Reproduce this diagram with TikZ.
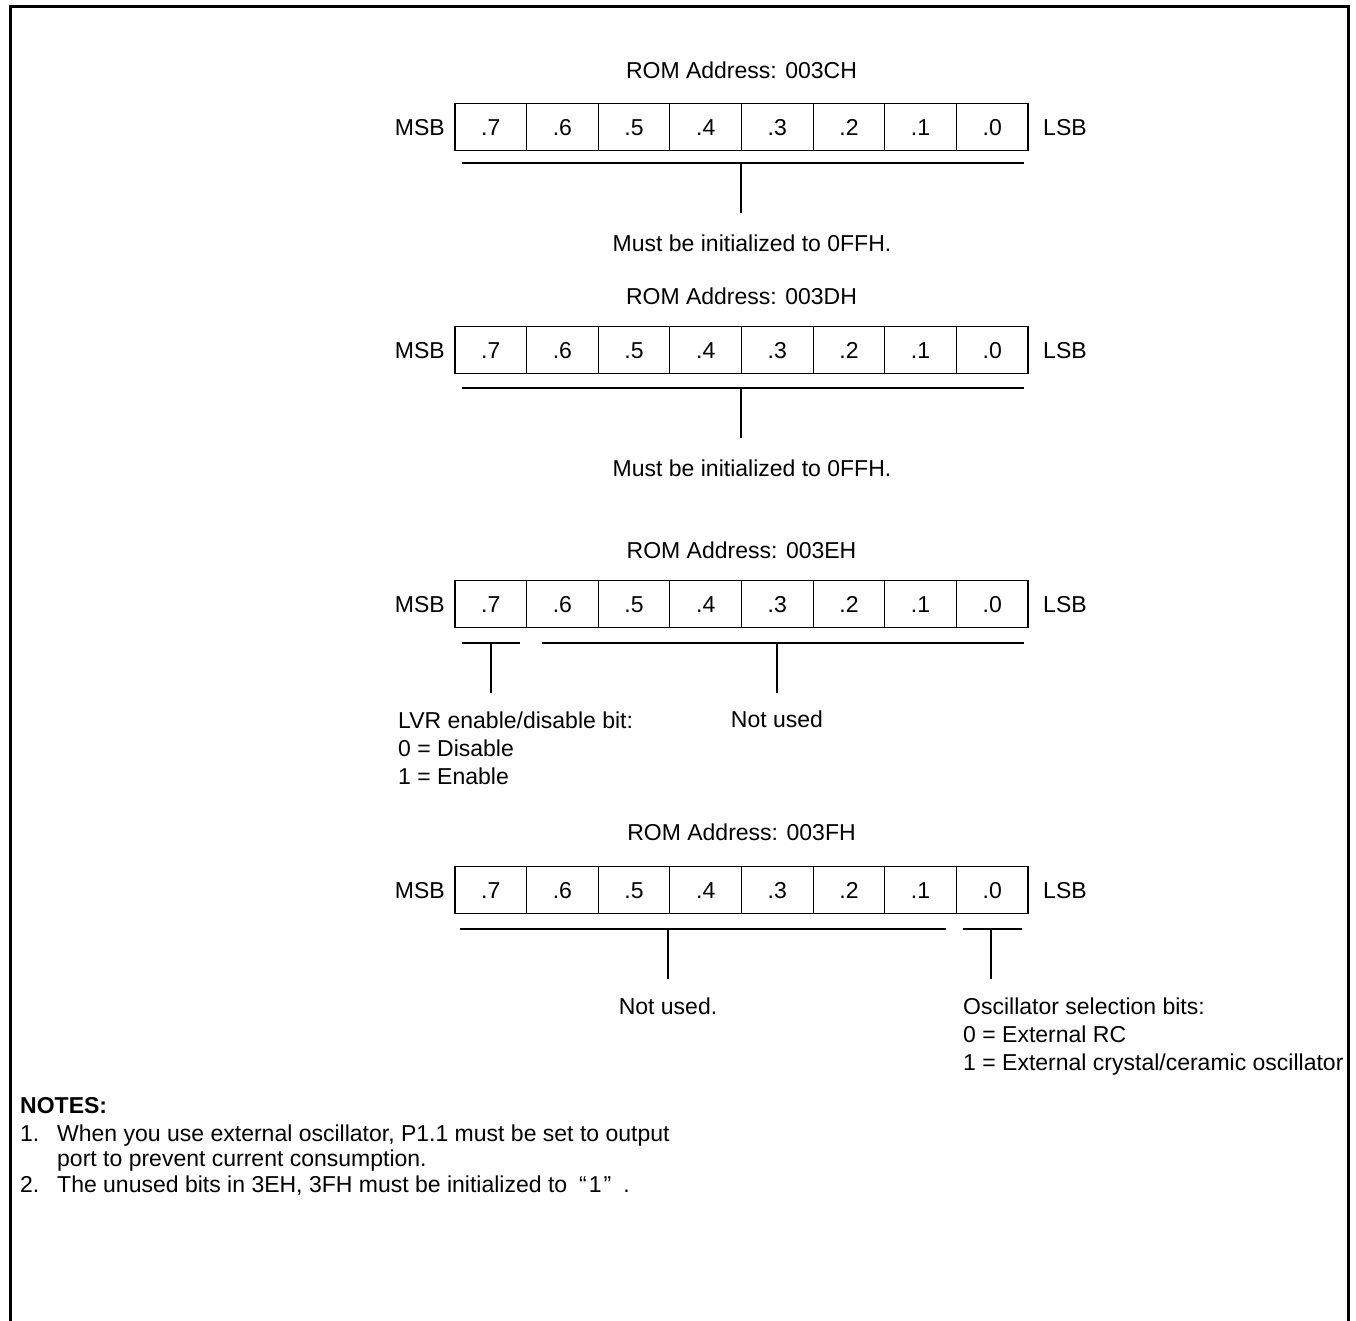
\documentclass[tikz,border=0pt]{standalone}
\usepackage{fontspec}
\setmainfont{Liberation Sans}
\begin{document}
\begin{tikzpicture}[x=1pt,y=-1pt,
  txt/.style={inner sep=0pt, text height=16.5pt, text depth=0pt, font=\fontsize{23}{27}\selectfont},
  cell/.style={txt, draw, line width=1.2pt, minimum width=71.625pt, minimum height=47pt},
  bar/.style={line width=1.6pt},
  lead/.style={line width=1.2pt},
  frame/.style={line width=3pt}]
\useasboundingbox (0,0) rectangle (1356,1321);

% outer frame, open at the bottom
\draw[frame] (10,1321) -- (10,7) -- (1348,7) -- (1348,1321);

% one register row: name, row centre y, title centre y, address
\newcommand\regrow[4]{%
  \node[txt] (#1title) at (741.5,#3) {ROM Address: #4};
  \node[txt, anchor=east] (#1msb) at (445,#2) {MSB};
  \foreach \b [count=\i from 0] in {7,6,5,4,3,2,1,0}
    \node[cell] (#1c\b) at (455+71.625*\i+35.8125,#2) {.\b};
  \node[txt, anchor=west] (#1lsb) at (1043,#2) {LSB};
}

% ---- 003CH ----
\regrow{ra}{127}{70}{003CH}
\draw[bar] (462,163) -- (1024,163);
\coordinate (ratop) at (741,163);
\coordinate (rabot) at (741,213);
\draw[lead] (ratop) -- (rabot);
\node[txt] (ranote) at (752,243) {Must be initialized to 0FFH.};

% ---- 003DH ----
\regrow{rb}{350}{296}{003DH}
\draw[bar] (462,388) -- (1024,388);
\coordinate (rbtop) at (741,388);
\coordinate (rbbot) at (741,438);
\draw[lead] (rbtop) -- (rbbot);
\node[txt] (rbnote) at (752,468) {Must be initialized to 0FFH.};

% ---- 003EH ----
\regrow{rc}{604}{550}{003EH}
\draw[bar] (462,643) -- (520,643);
\draw[bar] (542,643) -- (1024,643);
\coordinate (rclvrtop) at (491,643);
\coordinate (rclvrbot) at (491,693);
\coordinate (rcnutop) at (777,643);
\coordinate (rcnubot) at (777,693);
\draw[lead] (rclvrtop) -- (rclvrbot);
\draw[lead] (rcnutop) -- (rcnubot);
\node[txt, anchor=west] (rclvr) at (398,720) {LVR enable/disable bit:};
\node[txt, anchor=west] (rclvra) at (398,748) {0 = Disable};
\node[txt, anchor=west] (rclvrb) at (398,776) {1 = Enable};
\node[txt] (rcnu) at (777,719) {Not used};

% ---- 003FH ----
\regrow{rd}{890}{832}{003FH}
\draw[bar] (460,929) -- (946,929);
\draw[bar] (963,929) -- (1022,929);
\coordinate (rdnutop) at (668,929);
\coordinate (rdnubot) at (668,979);
\coordinate (rdosctop) at (991,929);
\coordinate (rdoscbot) at (991,979);
\draw[lead] (rdnutop) -- (rdnubot);
\draw[lead] (rdosctop) -- (rdoscbot);
\node[txt] (rdnu) at (668,1006) {Not used.};
\node[txt, anchor=west] (rdosc) at (963,1006) {Oscillator selection bits:};
\node[txt, anchor=west] (rdosca) at (963,1034) {0 = External RC};
\node[txt, anchor=west] (rdoscb) at (963,1062) {1 = External crystal/ceramic oscillator};

% ---- notes ----
\node[txt, anchor=west, font=\fontsize{23}{27}\selectfont\bfseries] (notes) at (20,1105) {NOTES:};
\node[txt, anchor=west] (notenum1) at (20,1133) {1.};
\node[txt, anchor=west] (notea) at (57,1133) {When you use external oscillator, P1.1 must be set to output};
\node[txt, anchor=west] (noteacont) at (57,1158) {port to prevent current consumption.};
\node[txt, anchor=west] (notenum2) at (20,1184) {2.};
\node[txt, anchor=west] (noteb) at (57,1184) {The unused bits in 3EH, 3FH must be initialized to\hspace{12pt}“\hspace{2pt}1\hspace{2pt}”\hspace{12pt}.};
\end{tikzpicture}
\end{document}
